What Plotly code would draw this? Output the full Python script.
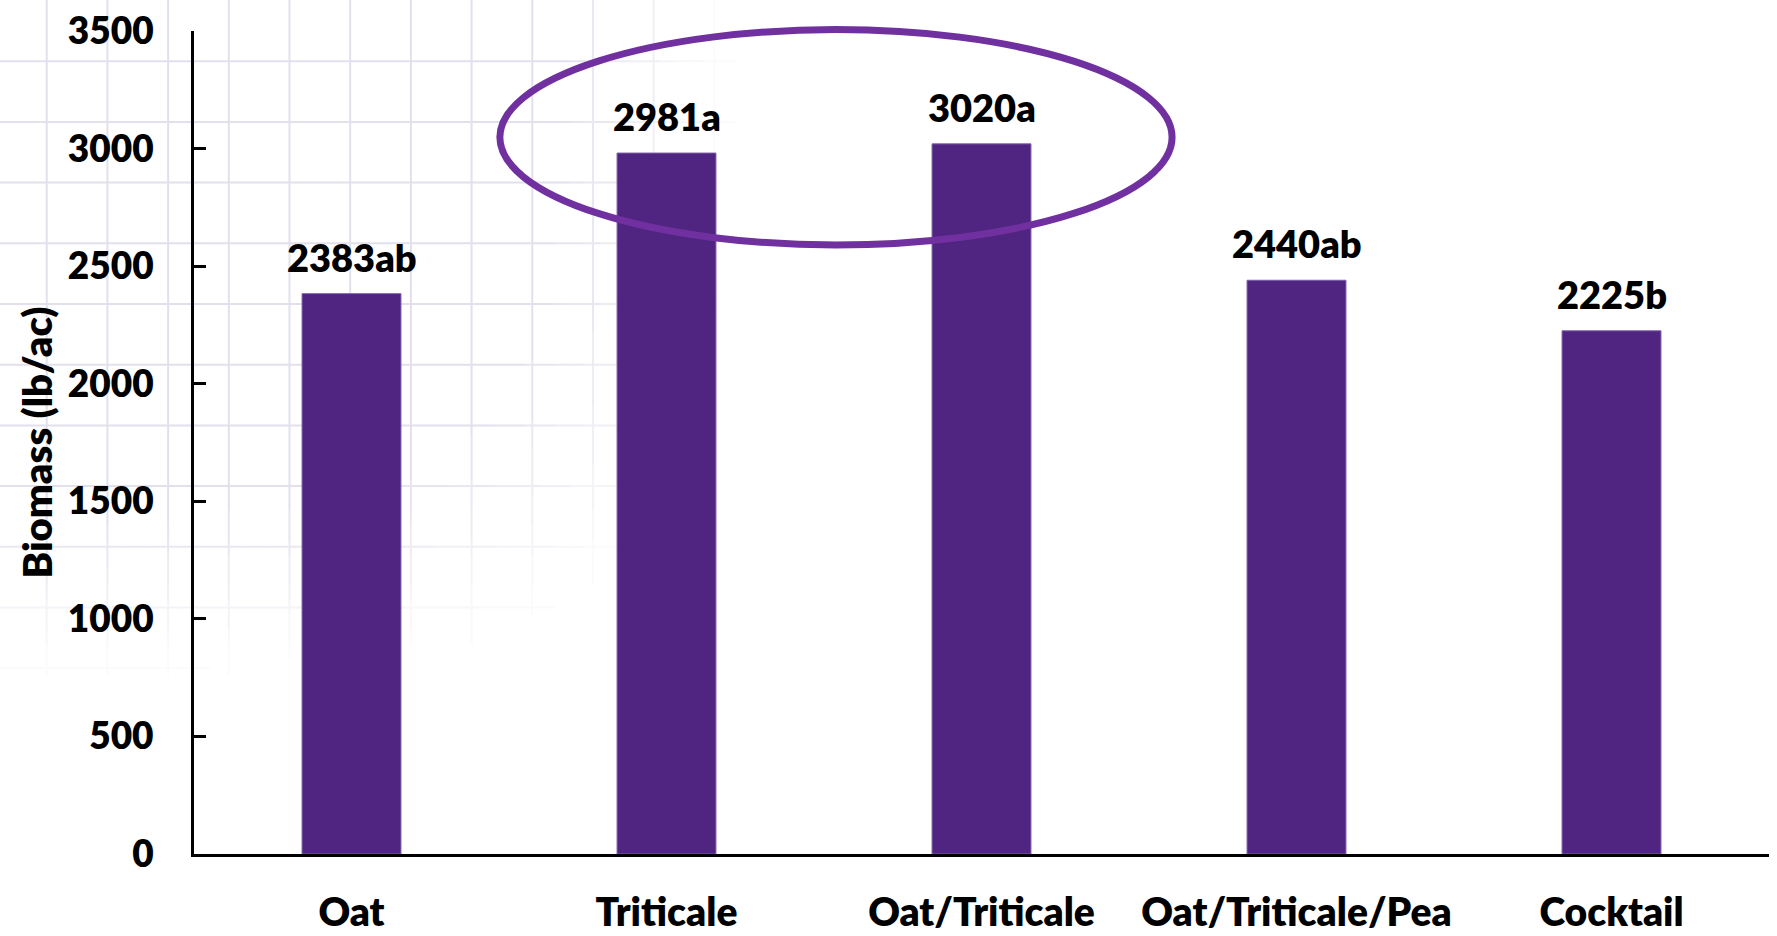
import numpy as np
import plotly.graph_objects as go

# Cover-crop biomass by treatment
categories = ["Oat", "Triticale", "Oat/Triticale", "Oat/Triticale/Pea", "Cocktail"]
biomass = [2383, 2981, 3020, 2440, 2225]
letters = ["ab", "a", "a", "ab", "b"]
y_ticks = [0, 500, 1000, 1500, 2000, 2500, 3000, 3500]
highlighted = ["Triticale", "Oat/Triticale"]

W, H = 1777, 936
M_L, M_R, M_T, M_B = 194, 8, 31, 82
Y_MAX = 3500

BAR_COLOR = "#502481"
RING_COLOR = "#7030A0"
FONT = "Lato"
WEIGHT = 800

plot_w = W - M_L - M_R
plot_h = H - M_T - M_B


def px_to_paper(px, py):
    return (px - M_L) / plot_w, (H - M_B - py) / plot_h


def data_to_paper(xd, yd):
    return (xd + 0.5) / len(categories), yd / Y_MAX


fig = go.Figure()
fig.add_trace(go.Bar(
    x=categories,
    y=biomass,
    width=0.314,
    marker=dict(color=BAR_COLOR, line=dict(color="#7E60A8", width=1)),
    hoverinfo="x+y",
))

# value + significance letter above every bar
for cat, val, let in zip(categories, biomass, letters):
    fig.add_annotation(
        x=cat, y=val, text=f"{val}{let}", showarrow=False,
        yanchor="bottom", yshift=12,
        font=dict(family=FONT, size=38, color="black", weight=WEIGHT),
    )

shapes = []

# faint graph-paper pattern fading out from the top-left corner
step = 60.7
levels = 8
paths = {k: [] for k in range(1, levels + 1)}
seg = 15.0


def fade(x, y):
    u = ((x / 740.0) ** 4 + (y / 680.0) ** 4) ** 0.25
    return float(np.clip((1.0 - u) / 0.25, 0.0, 1.0))


def add_segment(x0, y0, x1, y1):
    a = fade((x0 + x1) / 2, (y0 + y1) / 2)
    lvl = int(round(a * levels))
    if lvl <= 0:
        return
    p0 = px_to_paper(x0, y0)
    p1 = px_to_paper(x1, y1)
    paths[lvl].append(f"M{p0[0]:.5f},{p0[1]:.5f}L{p1[0]:.5f},{p1[1]:.5f}")


gx = 46.7
while gx < 800:
    yy = 0.0
    while yy < 720:
        add_segment(gx, yy, gx, yy + seg)
        yy += seg
    gx += step
gy = 0.5 + step
while gy < 720:
    xx = 0.0
    while xx < 820:
        add_segment(xx, gy, xx + seg, gy)
        xx += seg
    gy += step

for lvl, segs in paths.items():
    if not segs:
        continue
    shapes.append(dict(
        type="path", xref="paper", yref="paper", layer="below",
        path="".join(segs),
        line=dict(color=f"rgba(226,224,236,{lvl / levels:.3f})", width=2),
    ))

# ring drawn around the two top treatments
i0 = categories.index(highlighted[0])
i1 = categories.index(highlighted[-1])
top = max(biomass[i0:i1 + 1])
ex0, ey0 = data_to_paper(i0 - 0.529, top - 430)
ex1, ey1 = data_to_paper(i1 + 0.605, top + 486)
shapes.append(dict(
    type="circle", xref="paper", yref="paper", layer="above",
    x0=ex0, x1=ex1, y0=ey0, y1=ey1,
    line=dict(color=RING_COLOR, width=7),
))

fig.update_layout(
    width=W, height=H,
    margin=dict(l=M_L, r=M_R, t=M_T, b=M_B, pad=0, autoexpand=False),
    paper_bgcolor="white",
    plot_bgcolor="rgba(0,0,0,0)",
    showlegend=False,
    shapes=shapes,
    font=dict(family=FONT, color="black"),
    xaxis=dict(
        range=[-0.5, len(categories) - 0.5],
        automargin=False,
        showline=True, linecolor="black", linewidth=3,
        showgrid=False, zeroline=False, ticks="",
        tickfont=dict(family=FONT, size=39, color="black", weight=WEIGHT),
        ticklabelstandoff=22,
        fixedrange=True,
    ),
    yaxis=dict(
        range=[0, Y_MAX],
        automargin=False,
        tickvals=y_ticks,
        showline=True, linecolor="black", linewidth=3,
        showgrid=False, zeroline=False,
        ticks="inside", ticklen=12, tickwidth=3, tickcolor="black",
        tickfont=dict(family=FONT, size=37, color="black", weight=WEIGHT),
        ticklabelstandoff=30,
        title=dict(text="Biomass (lb/ac)", standoff=3,
                   font=dict(family=FONT, size=40, color="black", weight=WEIGHT)),
        fixedrange=True,
    ),
)

fig.write_html("out.html")
